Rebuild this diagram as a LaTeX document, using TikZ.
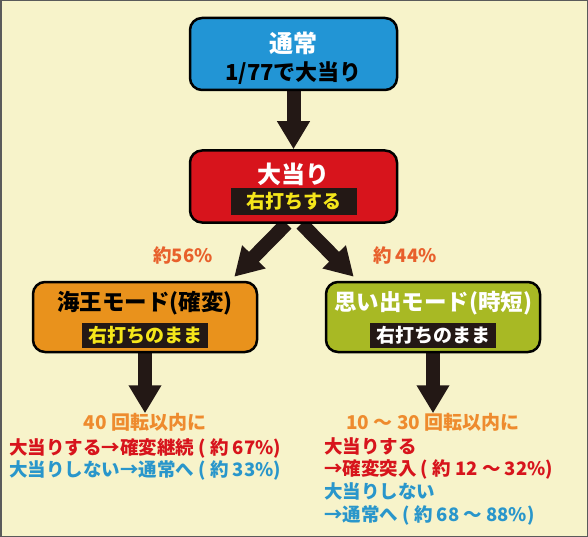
\documentclass[tikz,border=0pt]{standalone}
\usepackage{fontspec}
\setmainfont{Noto Sans CJK JP}
\usetikzlibrary{positioning,arrows.meta}

\definecolor{bgyellow}{HTML}{F7F3CA}
\definecolor{framegray}{HTML}{5A5A5A}
\definecolor{boxblue}{HTML}{2295D5}
\definecolor{boxred}{HTML}{D7141C}
\definecolor{boxorange}{HTML}{E9921C}
\definecolor{boxgreen}{HTML}{A8B924}
\definecolor{arrowblack}{HTML}{231815}
\definecolor{tagyellow}{HTML}{F5E61A}
\definecolor{rateorange}{HTML}{E8602C}
\definecolor{headorange}{HTML}{EE8B2E}
\definecolor{notered}{HTML}{D7141C}
\definecolor{noteblue}{HTML}{2996CB}

\pgfdeclarelayer{back}
\pgfsetlayers{back,main}

\begin{document}
\begin{tikzpicture}[
    x=1pt, y=-1pt,
    modebox/.style={
        draw=black,
        line width=2.5pt,
        rounded corners=12pt,
        minimum width=207pt,
        minimum height=72pt,
        inner sep=0pt
    },
    boxtitle/.style={
        font=\bfseries\fontsize{24}{28}\selectfont,
        inner sep=0pt
    },
    modetitle/.style={
        font=\bfseries\fontsize{22.5}{26}\selectfont,
        inner sep=0pt
    },
    tag/.style={
        fill=arrowblack,
        font=\bfseries\fontsize{19}{22}\selectfont,
        minimum width=126pt,
        minimum height=25pt,
        inner sep=2pt
    },
    rate/.style={
        text=rateorange,
        font=\bfseries\fontsize{18.5}{22}\selectfont,
        inner sep=0pt
    },
    head/.style={
        text=headorange,
        font=\bfseries\fontsize{19}{22}\selectfont,
        inner sep=0pt
    },
    note/.style={
        font=\bfseries\fontsize{18.5}{22.7}\selectfont,
        align=left,
        inner sep=0pt,
        anchor=north west
    },
    bigarrow/.style={
        draw=arrowblack,
        line width=14pt,
        -{Triangle[width=31pt,length=28pt]}
    }
]

\useasboundingbox (0,0) rectangle (588,537);

% background and frame
\begin{pgfonlayer}{back}
\fill[bgyellow] (0,0) rectangle (588,537);
\draw[framegray, line width=1.5pt] (0.75,0.75) rectangle (587.25,536.25);
\end{pgfonlayer}

% Normal mode
\node[modebox, fill=boxblue] (normal) at (293.5,54) {};
\node[boxtitle, text=white] (normal-title) at ([yshift=11pt]normal.center) {通常};
\node[boxtitle, text=black, font=\bfseries\fontsize{22}{26}\selectfont] (normal-odds) at ([yshift=-19pt]normal.center) {1/77で大当り};

% Big hit
\node[modebox, fill=boxred, below=58pt of normal] (hit) {};
\node[boxtitle, text=white] (hit-title) at ([yshift=12pt]hit.center) {大当り};
\node[tag, text=tagyellow, minimum height=27pt] (hit-tag) at ([yshift=-15pt]hit.center) {右打ちする};

% Kakuhen mode
\node[modebox, fill=boxorange, minimum width=224pt, minimum height=70pt] (kakuhen) at (145,317) {};
\node[modetitle, text=black] (kakuhen-title) at ([yshift=14pt]kakuhen.center) {海王モード(確変)};
\node[tag, text=tagyellow] (kakuhen-tag) at ([yshift=-18pt]kakuhen.center) {右打ちのまま};

% Jitan mode
\node[modebox, fill=boxgreen, minimum width=214pt, minimum height=70pt] (jitan) at (433,317) {};
\node[modetitle, text=white] (jitan-title) at ([yshift=14pt]jitan.center) {思い出モード(時短)};
\node[tag, text=white] (jitan-tag) at ([yshift=-18pt]jitan.center) {右打ちのまま};

% rates
\node[rate] (rate-kakuhen) at (183,255) {約56\%};
\node[rate] (rate-jitan) at (405,255) {約 44\%};

% results
\node[head, below=60pt of kakuhen] (kakuhen-head) {40 回転以内に};
\node[note] (kakuhen-note) at (9,438) {\textcolor{notered}{大当りする→確変継続 ( 約 67\%)}\\
    \textcolor{noteblue}{大当りしない→通常へ ( 約 33\%)}};

\node[head, below=60pt of jitan] (jitan-head) {10 〜 30 回転以内に};
\node[note] (jitan-note) at (324,437) {\textcolor{notered}{大当りする}\\
    \textcolor{notered}{→確変突入 ( 約 12 〜 32\%)}\\
    \textcolor{noteblue}{大当りしない}\\
    \textcolor{noteblue}{→通常へ ( 約 68 〜 88\%)}};

% Arrows
\begin{pgfonlayer}{back}
\draw[bigarrow] (normal) -- (hit);
\draw[bigarrow] ([xshift=-7pt]hit.south) -- ([xshift=-24pt,yshift=4pt]kakuhen.north east);
\draw[bigarrow] ([xshift=8pt]hit.south) -- ([xshift=29pt,yshift=4pt]jitan.north west);
\draw[bigarrow] (kakuhen) -- (kakuhen-head);
\draw[bigarrow] (jitan) -- (jitan-head);
\end{pgfonlayer}

\end{tikzpicture}
\end{document}
